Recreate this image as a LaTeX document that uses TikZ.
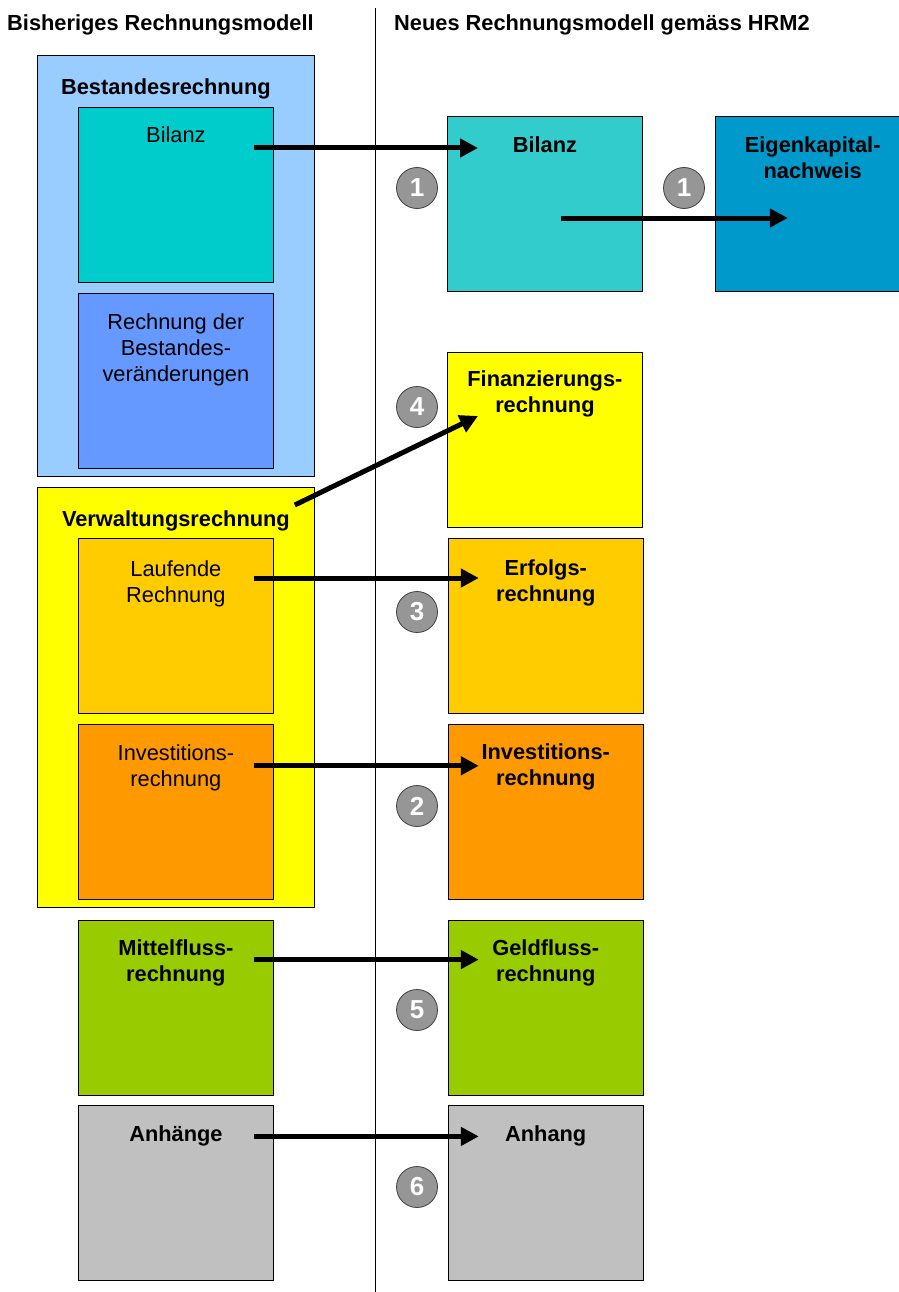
\documentclass[tikz,border=0pt]{standalone}
\usepackage{fontspec}
\setmainfont{Liberation Sans}
\usetikzlibrary{positioning}
\usetikzlibrary{arrows.meta}

\definecolor{cbestand}{HTML}{99CCFF}
\definecolor{cbilalt}{HTML}{00CCCC}
\definecolor{cbilneu}{HTML}{33CCCC}
\definecolor{cbestver}{HTML}{6699FF}
\definecolor{ceigen}{HTML}{0099CC}
\definecolor{cgelb}{HTML}{FFFF00}
\definecolor{clauf}{HTML}{FFCC00}
\definecolor{cinvest}{HTML}{FF9900}
\definecolor{cmittel}{HTML}{99CC00}
\definecolor{canhang}{HTML}{C0C0C0}
\definecolor{cnummer}{HTML}{969696}

\begin{document}
\begin{tikzpicture}[x=1pt, y=-1pt,
  font=\fontsize{21.8}{26}\selectfont,
  box/.style={draw, line width=0.8pt, inner sep=0pt, anchor=north west,
    minimum width=195pt, minimum height=175pt},
  frame/.style={draw, line width=0.8pt, inner sep=0pt, anchor=north west,
    minimum width=277pt},
  txt/.style={inner sep=0pt, align=center, anchor=north},
  head/.style={txt, font=\fontsize{21.8}{26}\selectfont\bfseries},
  num/.style={circle, draw=black!75, fill=cnummer, line width=0.8pt,
    minimum size=41pt, inner sep=0pt, text=white,
    font=\fontsize{26}{26}\selectfont\bfseries},
  flow/.style={-{Triangle[length=18pt,width=18pt]}, line width=5pt},
]
\useasboundingbox (0,0) rectangle (898,1292);

% headings and divider
\node[anchor=base west, inner sep=0pt, font=\fontsize{21.8}{26}\selectfont\bfseries]
  (alt-h) at (7,31) {Bisheriges Rechnungsmodell};
\node[anchor=base west, inner sep=0pt, font=\fontsize{21.8}{26}\selectfont\bfseries]
  (neu-h) at (394,31) {Neues Rechnungsmodell gemäss HRM2};
\coordinate (trenn-o) at (375,8);
\coordinate (trenn-u) at (375,1292);
\draw[line width=0.8pt] (trenn-o) -- (trenn-u);

% Bestandesrechnung
\node[frame, fill=cbestand, minimum height=421pt] (bestand) at (37,55) {};
\node[head, below=24pt of bestand.north, xshift=-10pt] (bestand-t) {Bestandesrechnung};
\node[box, fill=cbilalt] (bilalt) at (78,107) {};
\node[txt, below=20pt of bilalt.north] (bilalt-t) {Bilanz};
\node[box, fill=cbestver, below=10pt of bilalt] (bestver) {};
\node[txt, below=21pt of bestver.north] (bestver-t) {Rechnung der\\Bestandes-\\veränderungen};

% Verwaltungsrechnung
\node[frame, fill=cgelb, minimum height=420pt] (verw) at (37,487) {};
\node[head, below=23pt of verw.north] (verw-t) {Verwaltungsrechnung};
\node[box, fill=clauf] (lauf) at (78,538) {};
\node[txt, below=22pt of lauf.north] (lauf-t) {Laufende\\Rechnung};
\node[box, fill=cinvest, below=10pt of lauf] (invalt) {};
\node[txt, below=21pt of invalt.north] (invalt-t) {Investitions-\\rechnung};

% Mittelfluss, Anhaenge
\node[box, fill=cmittel, below=20pt of invalt] (mittel) {};
\node[head, below=20pt of mittel.north] (mittel-t) {Mittelfluss-\\rechnung};
\node[box, fill=canhang, below=10pt of mittel] (anhalt) {};
\node[head, below=20pt of anhalt.north] (anhalt-t) {Anhänge};

% neues Modell
\node[box, fill=cbilneu] (bilneu) at (447,116) {};
\node[head, below=21pt of bilneu.north] (bilneu-t) {Bilanz};
\node[box, fill=ceigen, right=72pt of bilneu] (eigen) {};
\node[head, below=21pt of eigen.north] (eigen-t) {Eigenkapital-\\nachweis};
\node[box, fill=cgelb] (fin) at (447,352) {};
\node[head, below=19pt of fin.north] (fin-t) {Finanzierungs-\\rechnung};
\node[box, fill=clauf, right=174pt of lauf] (erf) {};
\node[head, below=21pt of erf.north] (erf-t) {Erfolgs-\\rechnung};
\node[box, fill=cinvest, right=174pt of invalt] (invneu) {};
\node[head, below=20pt of invneu.north] (invneu-t) {Investitions-\\rechnung};
\node[box, fill=cmittel, right=174pt of mittel] (geld) {};
\node[head, below=20pt of geld.north] (geld-t) {Geldfluss-\\rechnung};
\node[box, fill=canhang, right=174pt of anhalt] (anhneu) {};
\node[head, below=20pt of anhneu.north] (anhneu-t) {Anhang};

% numbers
\node[num] (n1) at (417,188) {1};
\node[num] (n1e) at (684,188) {1};
\node[num] (n4) at (417,407) {4};
\node[num] (n3) at (417,612) {3};
\node[num] (n2) at (417,806) {2};
\node[num] (n5) at (417,1010) {5};
\node[num] (n6) at (417,1187) {6};

% arrows
\draw[flow] ([shift={(-20,41)}]bilalt.north east) -- ([shift={(31,32)}]bilneu.north west);
\draw[flow] ([shift={(114,102)}]bilneu.north west) -- ([shift={(73,102)}]eigen.north west);
\draw[flow] ([shift={(-20,18)}]verw.north east) -- ([shift={(31,64)}]fin.north west);
\draw[flow] ([shift={(-20,40)}]lauf.north east) -- ([shift={(31,40)}]erf.north west);
\draw[flow] ([shift={(-20,42)}]invalt.north east) -- ([shift={(31,42)}]invneu.north west);
\draw[flow] ([shift={(-20,40)}]mittel.north east) -- ([shift={(31,40)}]geld.north west);
\draw[flow] ([shift={(-20,31)}]anhalt.north east) -- ([shift={(31,31)}]anhneu.north west);
\end{tikzpicture}
\end{document}
